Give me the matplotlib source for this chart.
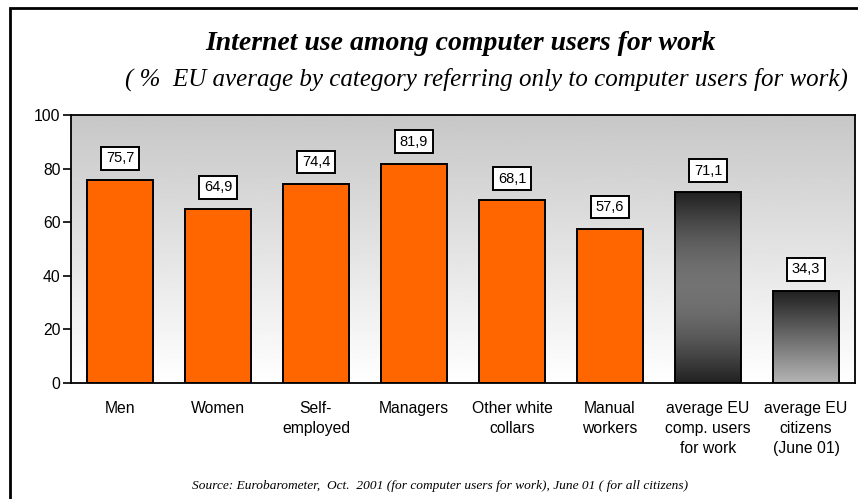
import numpy as np
import matplotlib.pyplot as plt
from matplotlib.patches import Rectangle

categories = ["Men", "Women", "Self-\nemployed", "Managers", "Other white\ncollars",
              "Manual\nworkers", "average EU\ncomp. users\nfor work", "average EU\ncitizens\n(June 01)"]
values = [75.7, 64.9, 74.4, 81.9, 68.1, 57.6, 71.1, 34.3]
labels = ["75,7", "64,9", "74,4", "81,9", "68,1", "57,6", "71,1", "34,3"]

plt.rcParams['font.family'] = ['Liberation Sans', 'DejaVu Sans']
serif = 'Liberation Serif'

fig = plt.figure(figsize=(8.58, 4.99), dpi=100)
ax = fig.add_axes([71/858, 1 - 383/499, (855-71)/858, (383-115)/499])

x = np.arange(len(values))
ax.set_xlim(-0.5, len(values) - 0.5)
ax.set_ylim(0, 100)

# grey-to-white background of the plot area (first row = top)
bg = np.linspace(0.78, 1.0, 256).reshape(-1, 1)
ax.imshow(bg, cmap='gray', vmin=0, vmax=1, aspect='auto',
          extent=(-0.5, len(values) - 0.5, 0, 100), zorder=0)

bars = ax.bar(x, values, width=0.67, color='#ff6600', edgecolor='black', linewidth=1.4, zorder=2)

# gradient fills for the two EU average bars
def grad_fill(bar, col):
    bar.set_facecolor('none')
    x0, w, h = bar.get_x(), bar.get_width(), bar.get_height()
    im = ax.imshow(col.reshape(-1, 1), cmap='gray', vmin=0, vmax=1, aspect='auto',
                   extent=(x0, x0 + w, 0, h), zorder=1.9)
    im.set_clip_path(bar)

t = np.linspace(0, 1, 256)
grad_fill(bars[6], 0.13 + 0.32 * np.sin(np.pi * t))
grad_fill(bars[7], 0.13 + 0.58 * t)

for xi, v, lab in zip(x, values, labels):
    ax.text(xi, v + 8.1, lab, ha='center', va='center', fontsize=10.5, zorder=3,
            bbox=dict(boxstyle='square,pad=0.3', fc='white', ec='black', lw=1.4))

ax.set_yticks(range(0, 101, 20))
ax.set_xticks(x)
ax.set_xticklabels(categories, fontsize=11.3, linespacing=1.4, va='top')
ax.tick_params(axis='x', length=0, pad=13)
ax.tick_params(axis='y', labelsize=11.3, length=5.5, width=1.2, direction='out', pad=2)
for s in ax.spines.values():
    s.set_linewidth(1.3)

fig.text(461/858, 1 - 43/499, "Internet use among computer users for work",
         family=serif, style='italic', weight='bold', fontsize=20, ha='center', va='center')
fig.text(486/858, 1 - 79/499, "( %  EU average by category referring only to computer users for work)",
         family=serif, style='italic', fontsize=18, ha='center', va='center')
fig.text(440/858, 1 - 486/499, "Source: Eurobarometer,  Oct.  2001 (for computer users for work), June 01 ( for all citizens)",
         family=serif, style='italic', fontsize=9.6, ha='center', va='center')

# outer frame
fig.add_artist(Rectangle((10/858, -0.1), 1.1, 1 - 8/499 + 0.1, transform=fig.transFigure,
                         fill=False, ec='black', lw=2))

fig.savefig('out.png', dpi=100)
